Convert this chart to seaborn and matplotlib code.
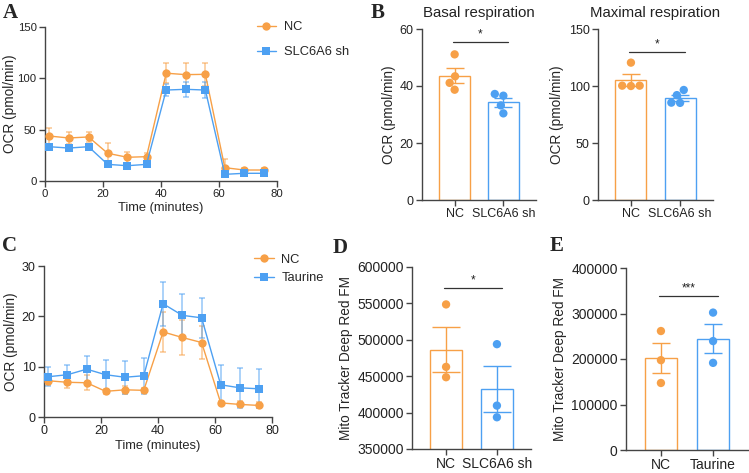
import numpy as np
import pandas as pd
import matplotlib
matplotlib.use('Agg')
import matplotlib.pyplot as plt
import seaborn as sns

sns.set_theme(style='ticks')
plt.rcParams['font.family'] = ['Liberation Sans', 'DejaVu Sans']
plt.rcParams['axes.edgecolor'] = '#444444'
plt.rcParams['xtick.color'] = '#444444'
plt.rcParams['ytick.color'] = '#444444'
plt.rcParams['xtick.labelcolor'] = '#222222'
plt.rcParams['ytick.labelcolor'] = '#222222'
plt.rcParams['axes.linewidth'] = 1.0

ORANGE = '#F7A047'
BLUE = '#4DA0F2'

# ---------------- data ----------------
time_min = [1.5, 8.2, 15.0, 21.6, 28.4, 35.0, 41.8, 48.5, 55.3, 62.0, 68.7, 75.4]

# Panel A (Seahorse, shRNA)
a_nc = [43.8, 41.9, 42.9, 27.0, 23.1, 23.7, 105.0, 103.6, 103.9, 13.0, 10.7, 10.7]
a_nc_err = [8, 6, 5, 10, 5.5, 3.5, 9.6, 11, 11.4, 8, 2, 2]
a_sh = [33.4, 32.1, 33.4, 16.2, 14.9, 16.2, 88.6, 89.3, 88.6, 6.5, 7.5, 7.5]
a_sh_err = [3, 2, 3, 2, 2, 2, 6, 7, 8, 2, 2, 2]

# Panel C (Seahorse, taurine)
c_nc = [7.2, 6.9, 6.8, 5.1, 5.4, 5.3, 16.9, 15.8, 14.8, 2.8, 2.5, 2.3]
c_nc_err = [0.9, 1.2, 1.5, 0.5, 0.8, 0.5, 3.9, 3.5, 3.3, 0.4, 0.6, 0.6]
c_tau = [8.0, 8.4, 9.5, 8.4, 7.9, 8.2, 22.5, 20.2, 19.7, 6.4, 5.8, 5.6]
c_tau_err = [1.9, 1.9, 2.6, 3.0, 3.3, 3.6, 4.4, 4.2, 4.0, 3.9, 4.0, 3.9]

# Panel B replicates
basal_nc = [51.1, 43.4, 41.1, 38.7]
basal_sh = [36.6, 37.2, 33.2, 30.4]
max_nc = [120.5, 100.3, 100.0, 100.3]
max_sh = [96.5, 92.0, 85.2, 85.4]

# Panel D / E replicates
d_nc = [548600, 462800, 448600]
d_sh = [494000, 409600, 393600]
e_nc = [261500, 197400, 147300]
e_tau = [302000, 239400, 191500]


def px_axes(left, right, top, bottom, W=749, H=473):
    return [left / W, 1 - bottom / H, (right - left) / W, (bottom - top) / H]


fig = plt.figure(figsize=(7.49, 4.73), dpi=100)


def line_panel(ax, g1, g2, labels, ylim, yticks, leg_anchor, leg_space, tick_fs, ypad):
    df = pd.DataFrame({
        'time': time_min * 2,
        'ocr': g1[0] + g2[0],
        'group': [labels[0]] * len(time_min) + [labels[1]] * len(time_min),
    })
    for (vals, errs), col in zip([g1, g2], [ORANGE, BLUE]):
        ax.errorbar(time_min, vals, yerr=errs, fmt='none', ecolor=col, alpha=0.55,
                    elinewidth=1.2, capsize=2.5, capthick=1.2, zorder=1)
    sns.lineplot(data=df, x='time', y='ocr', hue='group', style='group',
                 palette=[ORANGE, BLUE], markers=['o', 's'], dashes=False,
                 markersize=6, markeredgewidth=0, linewidth=1.0, ax=ax, zorder=3)
    ax.set_xlim(0, 80)
    ax.set_xticks([0, 20, 40, 60, 80])
    ax.set_ylim(*ylim)
    ax.set_yticks(yticks)
    ax.set_xlabel('Time (minutes)', fontsize=9.3, labelpad=2)
    ax.set_ylabel('OCR (pmol/min)', fontsize=9.8, labelpad=ypad)
    ax.tick_params(labelsize=tick_fs, length=4, width=1, pad=2)
    sns.despine(ax=ax)
    sns.move_legend(ax, 'upper left', bbox_to_anchor=leg_anchor, frameon=False,
                    title=None, fontsize=9.3, handlelength=1.5, labelspacing=leg_space,
                    handletextpad=0.6, borderaxespad=0)


def bar_panel(ax, v1, v2, labels, ylim, yticks, sig_y, sig_txt, cap, fs,
              title=None, ylabel=''):
    df = pd.DataFrame({'group': [labels[0]] * len(v1) + [labels[1]] * len(v2),
                       'val': v1 + v2})
    sns.barplot(data=df, x='group', y='val', hue='group', palette=[ORANGE, BLUE],
                errorbar=None, fill=False, width=0.63, linewidth=1.0, legend=False,
                ax=ax, zorder=1)
    stats = df.groupby('group', sort=False)['val'].agg(['mean', 'sem'])
    for i, (col, (m, s)) in enumerate(zip([ORANGE, BLUE], stats.values)):
        ax.errorbar([i], [m], yerr=[s], fmt='none', ecolor=col, elinewidth=1.0,
                    capsize=cap, capthick=1.0, zorder=2)
    sns.swarmplot(data=df, x='group', y='val', hue='group', palette=[ORANGE, BLUE],
                  size=6, legend=False, ax=ax, zorder=3)
    ax.set_xlim(-0.67, 1.67)
    ax.set_ylim(*ylim)
    ax.set_yticks(yticks)
    ax.set_xlabel('')
    ax.set_ylabel(ylabel, fontsize=9.8, labelpad=3)
    ax.tick_params(labelsize=fs, length=4, width=1, pad=2)
    ax.plot([-0.04, 1.1], [sig_y, sig_y], color='#333333', lw=0.9)
    ax.annotate(sig_txt, (0.53, sig_y), xytext=(0, 1), textcoords='offset points',
                ha='center', va='bottom', fontsize=8.5, color='#222222')
    if title:
        ax.set_title(title, fontsize=10.8, pad=9, color='#222222')
    sns.despine(ax=ax)


# A
axA = fig.add_axes(px_axes(45, 277, 27, 181))
line_panel(axA, (a_nc, a_nc_err), (a_sh, a_sh_err), ['NC', 'SLC6A6 sh'],
           (0, 150), [0, 50, 100, 150], (0.89, 1.07), 1.0, 8.2, 0.5)

# B basal
axB1 = fig.add_axes(px_axes(422, 536, 29, 200))
bar_panel(axB1, basal_nc, basal_sh, ['NC', 'SLC6A6 sh'], (0, 60), [0, 20, 40, 60],
          55.4, '*', 6.5, 9, title='Basal respiration', ylabel='OCR (pmol/min)')

# B maximal
axB2 = fig.add_axes(px_axes(598, 713, 29, 200))
bar_panel(axB2, max_nc, max_sh, ['NC', 'SLC6A6 sh'], (0, 150), [0, 50, 100, 150],
          129.8, '*', 6.5, 9, title='Maximal respiration', ylabel='OCR (pmol/min)')

# C
axC = fig.add_axes(px_axes(44, 272, 266, 417))
line_panel(axC, (c_nc, c_nc_err), (c_tau, c_tau_err), ['NC', 'Taurine'],
           (0, 30), [0, 10, 20, 30], (0.9, 1.115), 0.5, 9, 3)

# D
axD = fig.add_axes(px_axes(412, 531, 267, 449))
bar_panel(axD, d_nc, d_sh, ['NC', 'SLC6A6 sh'], (350000, 600000),
          [350000, 400000, 450000, 500000, 550000, 600000], 571500, '*', 10, 10,
          ylabel='Mito Tracker Deep Red FM')

# E
axE = fig.add_axes(px_axes(626, 748, 268, 450))
bar_panel(axE, e_nc, e_tau, ['NC', 'Taurine'], (0, 400000),
          [0, 100000, 200000, 300000, 400000], 338900, '***', 6.5, 10,
          ylabel='Mito Tracker Deep Red FM')

for lab, x, y in [('A', 3, 3), ('B', 371, 3), ('C', 2, 236), ('D', 333, 238), ('E', 550, 236)]:
    fig.text(x / 749, 1 - y / 473, lab, ha='left', va='top', fontsize=15,
             fontweight='bold', family=['Liberation Serif', 'DejaVu Serif'])

fig.savefig('out.png', dpi=100)
